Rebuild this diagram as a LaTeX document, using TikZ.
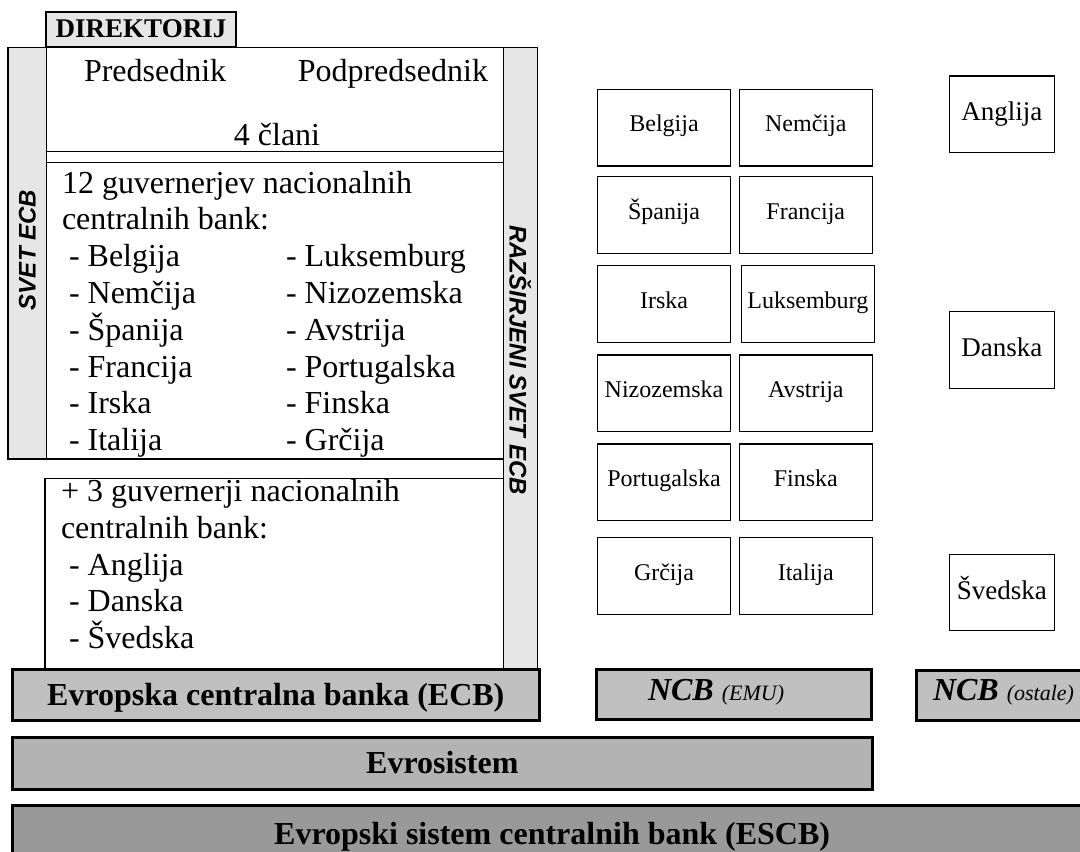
\documentclass[tikz,border=0pt]{standalone}
\usepackage{fontspec}
\setmainfont{Liberation Serif}
\newfontfamily\arialfont{Liberation Sans}
\definecolor{stripgray}{HTML}{E6E6E6}
\definecolor{bargray}{HTML}{C0C0C0}
\definecolor{eurogray}{HTML}{B3B3B3}
\definecolor{escbgray}{HTML}{999999}
\tikzset{
  every node/.style={inner sep=0pt,outer sep=0pt},
  strip/.style={draw=black,line width=1.3pt,fill=stripgray},
  panel/.style={draw=black,line width=1.5pt,fill=white},
  bar/.style={draw=black,line width=3pt,font=\bfseries\fontsize{32}{32}\selectfont,text height=24pt,text depth=4pt},
  cbox/.style={draw=black,line width=1.3pt,fill=white,minimum width=133.2pt,minimum height=76.6pt,
    font=\fontsize{24}{24}\selectfont,text height=17pt,text depth=8.8pt},
  rbox/.style={draw=black,line width=1.3pt,fill=white,minimum width=105pt,minimum height=76.4pt,
    font=\fontsize{27}{27}\selectfont,text height=19pt,text depth=5.6pt},
  txt/.style={font=\fontsize{32}{37}\selectfont,anchor=base west},
  vlabel/.style={font=\arialfont\bfseries\itshape\fontsize{24}{24}\selectfont},
  ncbtxt/.style={font=\bfseries\itshape\fontsize{32}{32}\selectfont,anchor=base west},
}
\begin{document}
\begin{tikzpicture}[x=1pt,y=-1pt]
\useasboundingbox (0,0) rectangle (1080,852);
\clip (0,0) rectangle (1080,852);

% side strips
\node[strip,minimum width=38.7pt,minimum height=411.3pt] (svetstrip) at (27.35,253.35) {};
\node[strip,minimum width=34pt,minimum height=621.6pt] (razstrip) at (520.3,358.5) {};

% panels
\node[panel,minimum width=456.6pt,minimum height=104pt] (direktorat) at (275,99.7) {};
\node[panel,minimum width=456.6pt,minimum height=296.7pt] (svet12) at (275,310.65) {};
\node[panel,minimum width=458.3pt,minimum height=191pt] (plus3) at (274.15,573.8) {};

% DIREKTORIJ tab
\node[draw=black,line width=1.8pt,fill=stripgray,minimum width=190pt,minimum height=35pt,
  font=\bfseries\fontsize{27}{27}\selectfont,text height=18pt,text depth=1pt] (direktorij) at (141,29.2) {DIREKTORIJ};

% vertical labels
\node[vlabel,rotate=90] (svetlbl) at (27.35,250) {SVET ECB};
\node[vlabel,rotate=-90] (razlbl) at (520.3,360) {RAZŠIRJENI SVET ECB};

% directorate text
\node[txt] (pred) at (84,81.7) {Predsednik};
\node[txt,anchor=base east] (podpred) at (488,81.7) {Podpredsednik};
\node[txt,anchor=base] (clani) at (277,145.7) {4 člani};

% 12 governors
\node[txt] (g0) at (62,193) {12 guvernerjev nacionalnih};
\node[txt] (g1) at (62,229.8) {centralnih bank:};
\foreach \t [count=\i from 2] in {Belgija,Nemčija,Španija,Francija,Irska,Italija}
  \node[txt] (ga\i) at (69,{193+36.8*\i}) {- \t};
\foreach \t [count=\i from 2] in {Luksemburg,Nizozemska,Avstrija,Portugalska,Finska,Grčija}
  \node[txt] (gb\i) at (286,{193+36.8*\i}) {- \t};

% 3 governors
\node[txt] (h0) at (61,501.7) {+ 3 guvernerji nacionalnih};
\node[txt] (h1) at (61,538.4) {centralnih bank:};
\foreach \t [count=\i from 2] in {Anglija,Danska,Švedska}
  \node[txt] (hb\i) at (69,{501.7+36.7*\i}) {- \t};

% bars
\node[bar,fill=bargray,minimum width=527pt,minimum height=51.4pt] (ecb) at (275.8,695) {Evropska centralna banka (ECB)};
\node[bar,fill=eurogray,minimum width=860pt,minimum height=51.3pt] (evrosistem) at (442.3,763.35) {Evrosistem};
\node[bar,fill=escbgray,minimum width=1079.7pt,minimum height=58.3pt] (escb) at (552.15,834.85) {Evropski sistem centralnih bank (ESCB)};
\node[bar,fill=bargray,minimum width=275pt,minimum height=50pt] (ncbemu) at (734.2,694.3) {};
\node[bar,fill=bargray,minimum width=173.3pt,minimum height=50.7pt] (ncbost) at (1003.35,695.35) {};
\node[ncbtxt] (ncbemutxt) at (648,700.7) {NCB \textmd{\fontsize{22}{22}\selectfont(EMU)}};
\node[ncbtxt] (ncbosttxt) at (933,700.7) {NCB \textmd{\fontsize{22}{22}\selectfont(ostale)}};

% EMU country boxes
\foreach \n/\t/\cx/\cy in {
  be/Belgija/664/127.65, de/Nemčija/805.8/127.65,
  es/Španija/664/215, fr/Francija/805.8/215,
  ie/Irska/664/304, lu/Luksemburg/807.8/304,
  nl/Nizozemska/664/393.35, at/Avstrija/805.8/393.35,
  pt/Portugalska/664/482.3, fi/Finska/805.8/482.3,
  gr/Grčija/664/576, it/Italija/805.8/576}
  \node[cbox] (\n) at (\cx,\cy) {\t};

% other countries
\node[rbox] (uk) at (1001.75,114.15) {Anglija};
\node[rbox] (dk) at (1001.75,350) {Danska};
\node[rbox] (se) at (1001.75,592.5) {Švedska};
\end{tikzpicture}
\end{document}
